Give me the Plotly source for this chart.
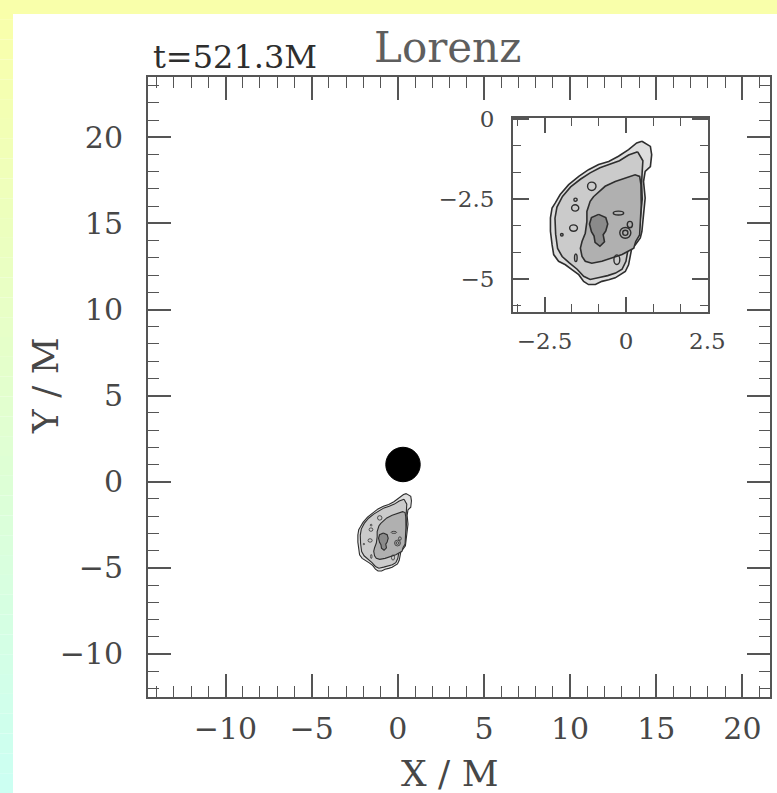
import plotly.graph_objects as go

W, H = 777, 793

# ---------------- data ----------------
# outer contour (lowest density level)
outer_x = [0.49, 0.75, 0.79, 0.75, 0.59, 0.54, 0.59, 0.54, 0.49, 0.44, 0.29, 0.18, 0.13, 0.08,
           -0.02, -0.17, -0.33, -0.53, -0.74, -0.94, -1.15, -1.30, -1.45, -1.66, -1.86, -2.07,
           -2.22, -2.27, -2.32, -2.32, -2.27, -2.17, -2.02, -1.76, -1.45, -1.15, -0.84, -0.53,
           -0.23, 0.08, 0.33]
outer_y = [-0.69, -0.85, -1.11, -1.48, -1.63, -1.95, -2.47, -2.99, -3.51, -3.72, -3.93, -4.03,
           -4.30, -4.56, -4.77, -4.87, -4.97, -5.03, -5.08, -5.18, -5.18, -5.08, -4.87, -4.71,
           -4.56, -4.45, -4.24, -3.93, -3.51, -3.09, -2.78, -2.62, -2.36, -2.05, -1.79, -1.58,
           -1.42, -1.32, -1.16, -0.95, -0.74]

# second contour level (just inside the outer one)
ring_x = [0.36, 0.52, 0.50, 0.48, 0.50, 0.46, 0.40, 0.22, 0.06, 0.00, -0.12, -0.32, -0.56,
          -0.82, -1.10, -1.30, -1.50, -1.74, -1.96, -2.10, -2.16, -2.18, -2.12, -1.95, -1.70,
          -1.40, -1.10, -0.80, -0.50, -0.20, 0.08]
ring_y = [-1.02, -1.30, -1.62, -2.00, -2.50, -3.00, -3.50, -3.86, -4.10, -4.45, -4.70, -4.82,
          -4.90, -4.96, -5.02, -4.92, -4.70, -4.50, -4.30, -4.05, -3.60, -3.10, -2.75, -2.42,
          -2.12, -1.88, -1.68, -1.52, -1.42, -1.30, -1.12]

# third contour level
mid_x = [-0.99, -0.64, -0.33, -0.02, 0.28, 0.42, 0.46, 0.47, 0.45, 0.42, 0.30, 0.24, -0.12,
         -0.43, -0.74, -1.05, -1.25, -1.35, -1.40, -1.35, -1.25, -1.20, -1.20, -1.10]
mid_y = [-2.42, -2.10, -1.95, -1.84, -1.74, -1.79, -2.05, -2.68, -3.20, -3.62, -3.83, -4.04,
         -4.24, -4.35, -4.45, -4.51, -4.45, -4.30, -4.04, -3.83, -3.57, -3.20, -2.89, -2.57]

# innermost contour level (core)
core_x = [-0.84, -0.62, -0.56, -0.62, -0.70, -0.66, -0.80, -0.95, -0.98, -1.06, -1.12, -1.06]
core_y = [-2.98, -3.08, -3.28, -3.50, -3.62, -3.84, -3.98, -3.86, -3.66, -3.52, -3.28, -3.08]

# small contour islands: centre x, centre y, half-width, half-height
isl_x = [-1.05, -1.56, -1.55, -1.61, -0.02, -0.02, -0.23, -0.28, -1.54, -1.97, 0.12]
isl_y = [-2.10, -2.78, -2.52, -3.41, -3.56, -3.56, -2.94, -4.40, -4.34, -3.62, -3.30]
isl_rx = [0.13, 0.11, 0.05, 0.12, 0.17, 0.08, 0.16, 0.09, 0.04, 0.04, 0.08]
isl_ry = [0.13, 0.10, 0.05, 0.10, 0.17, 0.08, 0.06, 0.15, 0.12, 0.04, 0.10]

# black hole position and radius
bh_x, bh_y, bh_r = 0.3, 1.0, 1.0

time_label = "t=521.3M"
title_text = "Lorenz"
x_title = "X / M"
y_title = "Y / M"

main_xrange = [-14.5, 21.6]
main_yrange = [-12.5, 23.5]
inset_xrange = [-3.47, 2.52]
inset_yrange = [-6.04, 0.04]

# ---------------- style ----------------
FONT = "DejaVu Serif"
TXT = "#474747"
AX = "#555555"
C_OUT, C_RING, C_MID, C_CORE = "#dedede", "#cbcbcb", "#b0b0b0", "#8a8a8a"
C_LINE = "#2e2e2e"

fig = go.Figure()

levels = [(outer_x, outer_y, C_OUT), (ring_x, ring_y, C_RING),
          (mid_x, mid_y, C_MID), (core_x, core_y, C_CORE)]
for xa, ya, lw in (("x", "y", 1.1), ("x2", "y2", 1.6)):
    for lx, ly, col in levels:
        fig.add_trace(go.Scatter(x=lx + lx[:1], y=ly + ly[:1], mode="lines",
                                 fill="toself", fillcolor=col, line=dict(color=C_LINE, width=lw),
                                 xaxis=xa, yaxis=ya, hoverinfo="skip", showlegend=False))

shapes = []
# background gradient (yellow -> cyan) on the top and left edges
top_c = (249, 255, 170)
bot_c = (204, 255, 242)
nb = 40
for i in range(nb):
    t = i / (nb - 1)
    c = tuple(int(round(top_c[k] + (bot_c[k] - top_c[k]) * t)) for k in range(3))
    shapes.append(dict(type="rect", xref="paper", yref="paper", x0=0, x1=13 / W,
                       y0=1 - (i + 1) / nb, y1=1 - i / nb, fillcolor="rgb(%d,%d,%d)" % c,
                       line=dict(width=0), layer="below"))
shapes.append(dict(type="rect", xref="paper", yref="paper", x0=0, x1=1, y0=1 - 14 / H, y1=1,
                   fillcolor="rgb(%d,%d,%d)" % top_c, line=dict(width=0), layer="below"))

# black hole disk
shapes.append(dict(type="circle", xref="x", yref="y", x0=bh_x - bh_r, x1=bh_x + bh_r,
                   y0=bh_y - bh_r, y1=bh_y + bh_r, fillcolor="black", line=dict(color="black", width=1)))

# contour islands
for xa, ya, lw in (("x", "y", 0.8), ("x2", "y2", 1.4)):
    for cx, cy, rx, ry in zip(isl_x, isl_y, isl_rx, isl_ry):
        shapes.append(dict(type="circle", xref=xa, yref=ya, x0=cx - rx, x1=cx + rx,
                           y0=cy - ry, y1=cy + ry, fillcolor="rgba(0,0,0,0)",
                           line=dict(color=C_LINE, width=lw)))

def axis_common(font_size, major_len, minor_len, dtick, minor_dtick, standoff):
    return dict(showgrid=False, zeroline=False, showline=True, linecolor=AX, linewidth=2,
                mirror="allticks", ticks="inside", ticklen=major_len, tickwidth=1.5,
                tickcolor=AX, dtick=dtick, tick0=0, automargin=False,
                tickfont=dict(family=FONT, size=font_size, color=TXT),
                ticklabelstandoff=standoff,
                minor=dict(ticks="inside", ticklen=minor_len, tickwidth=1.2, tickcolor=AX,
                           dtick=minor_dtick, tick0=0, showgrid=False))

fig.update_layout(
    width=W, height=H,
    margin=dict(l=0, r=0, t=0, b=0, pad=0, autoexpand=False),
    paper_bgcolor="white", plot_bgcolor="white", showlegend=False,
    shapes=shapes,
    xaxis=dict(domain=[148 / W, 770 / W], range=main_xrange, anchor="y",
               **axis_common(30, 23, 11, 5, 1, 4)),
    yaxis=dict(domain=[1 - 697 / H, 1 - 77 / H], range=main_yrange, anchor="x",
               **axis_common(30, 23, 11, 5, 1, 17)),
    xaxis2=dict(domain=[513 / W, 708 / W], range=inset_xrange, anchor="y2",
                **axis_common(23, 15, 8, 2.5, 2.5 / 3, 7)),
    yaxis2=dict(domain=[1 - 312 / H, 1 - 118 / H], range=inset_yrange, anchor="x2",
                **axis_common(23, 16, 8, 2.5, 2.5 / 3, 12)),
    annotations=[
        dict(text=time_label, xref="paper", yref="paper", x=151 / W, y=1 - 57 / H,
             xanchor="left", yanchor="middle", showarrow=False,
             font=dict(family=FONT, size=32, color="#2e2e2e")),
        dict(text=title_text, xref="paper", yref="paper", x=372 / W, y=1 - 47 / H,
             xanchor="left", yanchor="middle", showarrow=False,
             font=dict(family=FONT, size=42, color="#5e5e5e")),
        dict(text=x_title, xref="paper", yref="paper", x=450 / W, y=1 - 773 / H,
             xanchor="center", yanchor="middle", showarrow=False,
             font=dict(family=FONT, size=36, color=TXT)),
        dict(text=y_title, xref="paper", yref="paper", x=46 / W, y=1 - 386 / H,
             xanchor="center", yanchor="middle", showarrow=False, textangle=-90,
             font=dict(family=FONT, size=36, color=TXT)),
    ],
)

fig.write_html(
    "out.html",
    post_script="document.documentElement.style.overflow='hidden';"
                "document.body.style.margin='0';document.body.style.overflow='hidden';",
)
